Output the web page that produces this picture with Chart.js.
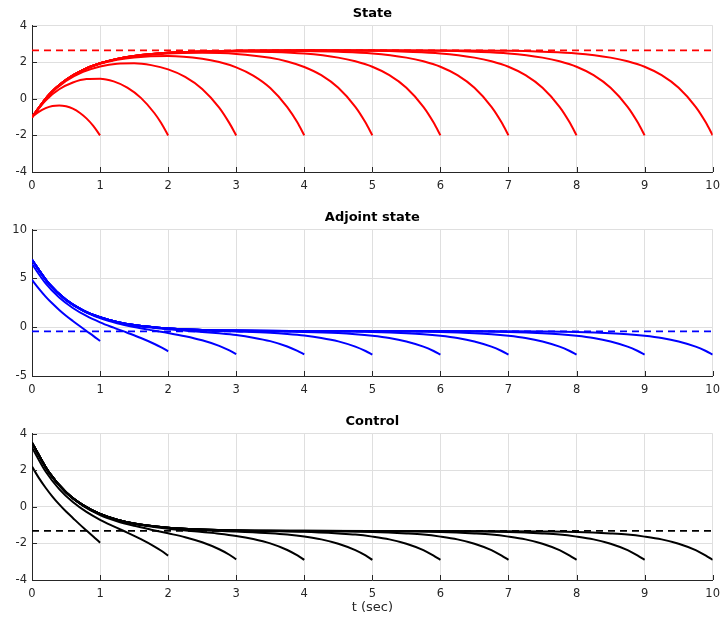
<!DOCTYPE html>
<html>
<head>
<meta charset="utf-8">
<script src="https://cdn.jsdelivr.net/npm/chart.js@4.4.1/dist/chart.umd.min.js"></script>
<style>
  html, body { margin: 0; background: #fff; overflow: hidden; }
  .panel { position: absolute; left: 0; width: 727px; }
</style>
</head>
<body>
<div class="panel" style="top:0px;height:200px"><canvas id="state_plot" width="727" height="200"></canvas></div>
<div class="panel" style="top:204px;height:200px"><canvas id="adjoint_plot" width="727" height="200"></canvas></div>
<div class="panel" style="top:408px;height:213px"><canvas id="control_plot" width="727" height="213"></canvas></div>
<script>
'use strict';

// time samples for each horizon T = 1..10
const horizonTimes = [
    [0, 0.1, 0.2, 0.3, 0.4, 0.5, 0.6, 0.7, 0.8, 0.9, 1],
    [0, 0.2, 0.4, 0.6, 0.8, 1, 1.2, 1.4, 1.6, 1.8, 1.9, 2],
    [0, 0.25, 0.5, 0.75, 1, 1.25, 1.5, 1.75, 2, 2.25, 2.5, 2.75, 2.9, 3],
    [0, 0.25, 0.5, 0.75, 1, 1.25, 1.5, 2, 2.5, 2.75, 3, 3.25, 3.5, 3.75, 3.9, 4],
    [0, 0.25, 0.5, 0.75, 1, 1.25, 1.5, 2, 2.5, 3, 3.5, 3.75, 4, 4.25, 4.5, 4.75, 4.9, 5],
    [0, 0.25, 0.5, 0.75, 1, 1.25, 1.5, 2, 2.5, 3, 3.5, 4, 4.5, 4.75, 5, 5.25, 5.5, 5.75, 5.9, 6],
    [0, 0.25, 0.5, 0.75, 1, 1.25, 1.5, 2, 2.5, 3, 3.5, 4, 4.5, 5, 5.5, 5.75, 6, 6.25, 6.5, 6.75, 6.9, 7],
    [0, 0.25, 0.5, 0.75, 1, 1.25, 1.5, 2, 2.5, 3, 4, 5, 5.5, 6, 6.5, 6.75, 7, 7.25, 7.5, 7.75, 7.9, 8],
    [0, 0.25, 0.5, 0.75, 1, 1.25, 1.5, 2, 2.5, 3, 4, 5, 6, 6.5, 7, 7.5, 7.75, 8, 8.25, 8.5, 8.75, 8.9, 9],
    [0, 0.25, 0.5, 0.75, 1, 1.25, 1.5, 2, 2.5, 3, 4, 5, 6, 7, 7.5, 8, 8.5, 8.75, 9, 9.25, 9.5, 9.75, 9.9, 10]
];

const stateValues = [
    [-1, -0.71, -0.51, -0.39, -0.36, -0.41, -0.54, -0.76, -1.07, -1.48, -2],
    [-1, -0.09, 0.52, 0.89, 1.08, 1.1, 0.95, 0.61, 0.05, -0.79, -1.34, -2],
    [-1, 0.18, 0.97, 1.47, 1.77, 1.92, 1.94, 1.84, 1.61, 1.2, 0.54, -0.48, -1.33, -2],
    [-1, 0.22, 1.03, 1.56, 1.91, 2.13, 2.26, 2.34, 2.19, 2.01, 1.72, 1.27, 0.59, -0.45, -1.3, -2],
    [-1, 0.23, 1.04, 1.58, 1.94, 2.17, 2.32, 2.48, 2.51, 2.45, 2.24, 2.04, 1.74, 1.29, 0.6, -0.44, -1.3, -2],
    [-1, 0.23, 1.04, 1.58, 1.94, 2.18, 2.34, 2.51, 2.57, 2.59, 2.56, 2.47, 2.25, 2.05, 1.75, 1.29, 0.6, -0.44, -1.3, -2],
    [-1, 0.23, 1.04, 1.58, 1.94, 2.18, 2.34, 2.51, 2.59, 2.62, 2.62, 2.61, 2.57, 2.48, 2.25, 2.05, 1.75, 1.29, 0.6, -0.44, -1.3, -2],
    [-1, 0.23, 1.04, 1.58, 1.94, 2.18, 2.34, 2.51, 2.59, 2.62, 2.64, 2.62, 2.57, 2.48, 2.25, 2.05, 1.75, 1.29, 0.6, -0.44, -1.3, -2],
    [-1, 0.23, 1.04, 1.58, 1.94, 2.18, 2.34, 2.51, 2.59, 2.62, 2.65, 2.64, 2.62, 2.57, 2.48, 2.25, 2.05, 1.75, 1.29, 0.6, -0.44, -1.3, -2],
    [-1, 0.23, 1.04, 1.58, 1.94, 2.18, 2.34, 2.51, 2.59, 2.62, 2.65, 2.65, 2.64, 2.62, 2.57, 2.48, 2.25, 2.05, 1.75, 1.29, 0.6, -0.44, -1.3, -2]
];

const adjointValues = [
    [4.85, 3.96, 3.14, 2.42, 1.77, 1.18, 0.64, 0.12, -0.39, -0.89, -1.41],
    [6.47, 4.49, 3.04, 1.97, 1.15, 0.5, -0.05, -0.57, -1.11, -1.72, -2.07, -2.47],
    [6.88, 4.42, 2.77, 1.67, 0.93, 0.41, 0.02, -0.3, -0.59, -0.92, -1.34, -1.91, -2.38, -2.75],
    [6.9, 4.44, 2.8, 1.72, 1.0, 0.52, 0.18, -0.22, -0.48, -0.63, -0.81, -1.07, -1.43, -1.98, -2.43, -2.79],
    [6.9, 4.45, 2.81, 1.73, 1.01, 0.54, 0.22, -0.14, -0.32, -0.44, -0.58, -0.7, -0.86, -1.1, -1.45, -1.99, -2.44, -2.8],
    [6.9, 4.45, 2.81, 1.73, 1.02, 0.54, 0.22, -0.13, -0.29, -0.37, -0.42, -0.48, -0.6, -0.71, -0.87, -1.1, -1.46, -1.99, -2.44, -2.8],
    [6.9, 4.45, 2.81, 1.73, 1.02, 0.54, 0.22, -0.13, -0.28, -0.36, -0.39, -0.41, -0.44, -0.49, -0.61, -0.71, -0.87, -1.1, -1.46, -1.99, -2.44, -2.8],
    [6.9, 4.45, 2.81, 1.73, 1.02, 0.54, 0.22, -0.13, -0.28, -0.35, -0.39, -0.42, -0.44, -0.49, -0.61, -0.71, -0.87, -1.1, -1.46, -1.99, -2.44, -2.8],
    [6.9, 4.45, 2.81, 1.73, 1.02, 0.54, 0.22, -0.13, -0.28, -0.35, -0.39, -0.4, -0.42, -0.44, -0.49, -0.61, -0.71, -0.87, -1.1, -1.46, -1.99, -2.44, -2.8],
    [6.9, 4.45, 2.81, 1.73, 1.02, 0.54, 0.22, -0.13, -0.28, -0.35, -0.39, -0.4, -0.4, -0.42, -0.44, -0.49, -0.61, -0.71, -0.87, -1.1, -1.46, -1.99, -2.44, -2.8]
];

const controlValues = [
    [2.2, 1.58, 1.04, 0.56, 0.13, -0.26, -0.61, -0.96, -1.29, -1.62, -1.96],
    [3.24, 1.93, 0.97, 0.26, -0.28, -0.71, -1.07, -1.41, -1.77, -2.17, -2.4, -2.67],
    [3.49, 1.86, 0.78, 0.05, -0.45, -0.79, -1.04, -1.25, -1.45, -1.66, -1.94, -2.32, -2.62, -2.87],
    [3.5, 1.88, 0.8, 0.08, -0.4, -0.72, -0.93, -1.2, -1.38, -1.47, -1.59, -1.76, -2.0, -2.36, -2.66, -2.9],
    [3.5, 1.88, 0.8, 0.08, -0.39, -0.7, -0.92, -1.15, -1.27, -1.35, -1.44, -1.51, -1.62, -1.78, -2.02, -2.37, -2.66, -2.9],
    [3.5, 1.88, 0.8, 0.09, -0.39, -0.7, -0.91, -1.14, -1.25, -1.3, -1.33, -1.37, -1.46, -1.52, -1.63, -1.78, -2.02, -2.37, -2.67, -2.9],
    [3.5, 1.88, 0.8, 0.09, -0.39, -0.7, -0.91, -1.14, -1.24, -1.29, -1.31, -1.33, -1.35, -1.38, -1.46, -1.52, -1.63, -1.78, -2.02, -2.37, -2.67, -2.9],
    [3.5, 1.88, 0.8, 0.09, -0.39, -0.7, -0.91, -1.14, -1.24, -1.29, -1.32, -1.33, -1.35, -1.38, -1.46, -1.52, -1.63, -1.78, -2.02, -2.37, -2.67, -2.9],
    [3.5, 1.88, 0.8, 0.09, -0.39, -0.7, -0.91, -1.14, -1.24, -1.29, -1.31, -1.32, -1.33, -1.35, -1.38, -1.46, -1.52, -1.63, -1.78, -2.02, -2.37, -2.67, -2.9],
    [3.5, 1.88, 0.8, 0.09, -0.39, -0.7, -0.91, -1.14, -1.24, -1.29, -1.31, -1.32, -1.32, -1.33, -1.35, -1.38, -1.46, -1.52, -1.63, -1.78, -2.02, -2.37, -2.67, -2.9]
];

// steady (turnpike) levels, drawn dashed
const stateTurnpike = 2.65;
const adjointTurnpike = -0.42;
const controlTurnpike = -1.32;

const FONT = 'DejaVu Sans';
const AXIS_COLOR = '#262626';
const GRID_COLOR = '#dfdfdf';

// small ticks pointing into the plot, like the original figure
const inwardTicks = {
    id: 'inwardTicks',
    afterDraw(chart) {
        const {ctx, chartArea, scales: {x, y}} = chart;
        ctx.save();
        ctx.strokeStyle = AXIS_COLOR;
        ctx.lineWidth = 1;
        ctx.beginPath();
        x.ticks.forEach(t => {
            const px = Math.round(x.getPixelForValue(t.value)) + 0.5;
            ctx.moveTo(px, chartArea.bottom);
            ctx.lineTo(px, chartArea.bottom - 5);
        });
        y.ticks.forEach(t => {
            const py = Math.round(y.getPixelForValue(t.value)) + 0.5;
            ctx.moveTo(chartArea.left, py);
            ctx.lineTo(chartArea.left + 5, py);
        });
        ctx.stroke();
        ctx.restore();
    }
};

function makePlot(id, title, values, color, turnpike, yMin, yMax, yStep, xHeight, showXTitle) {
    const datasets = values.map((vals, i) => ({
        data: horizonTimes[i].map((t, k) => ({x: t, y: vals[k]})),
        borderColor: color,
        borderWidth: 2,
        pointRadius: 0,
        fill: false,
        cubicInterpolationMode: 'monotone'
    }));
    datasets.push({
        data: [{x: 0, y: turnpike}, {x: 10, y: turnpike}],
        borderColor: color,
        borderWidth: 1.8,
        borderDash: [7, 5],
        pointRadius: 0,
        fill: false
    });

    return new Chart(id, {
        type: 'line',
        data: {datasets: datasets},
        plugins: [inwardTicks],
        options: {
            responsive: false,
            animation: false,
            layout: {padding: {top: 0, right: 0, bottom: 0, left: 0}},
            plugins: {
                legend: {display: false},
                tooltip: {enabled: false},
                title: {
                    display: true,
                    text: title,
                    fullSize: false,
                    color: '#000',
                    font: {family: FONT, size: 13, weight: 'bold'},
                    padding: {top: 6, bottom: 4}
                }
            },
            scales: {
                x: {
                    type: 'linear',
                    min: 0,
                    max: 10,
                    ticks: {stepSize: 1, padding: 7, color: AXIS_COLOR, font: {family: FONT, size: 11.5}, maxRotation: 0},
                    grid: {color: GRID_COLOR, drawTicks: false},
                    border: {color: AXIS_COLOR, width: 1},
                    title: {
                        display: showXTitle,
                        text: 't (sec)',
                        color: AXIS_COLOR,
                        font: {family: FONT, size: 13},
                        padding: {top: 0, bottom: 6}
                    },
                    afterFit(scale) { scale.height = xHeight; }
                },
                y: {
                    min: yMin,
                    max: yMax,
                    ticks: {stepSize: yStep, padding: 5, color: AXIS_COLOR, font: {family: FONT, size: 11.5}},
                    grid: {color: GRID_COLOR, drawTicks: false},
                    border: {color: AXIS_COLOR, width: 1},
                    afterFit(scale) { scale.width = 32; }
                }
            }
        }
    });
}

makePlot('state_plot', 'State', stateValues, '#ff0000', stateTurnpike, -4, 4, 2, 28, false);
makePlot('adjoint_plot', 'Adjoint state', adjointValues, '#0000ff', adjointTurnpike, -5, 10, 5, 28, false);
makePlot('control_plot', 'Control', controlValues, '#000000', controlTurnpike, -4, 4, 2, 41, true);
</script>
</body>
</html>
